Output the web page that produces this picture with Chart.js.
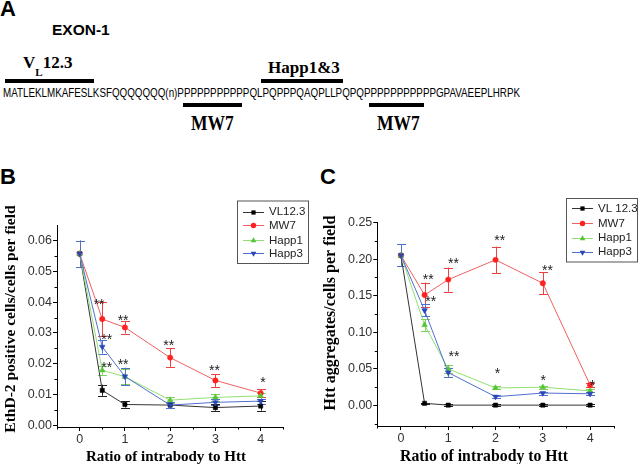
<!DOCTYPE html>
<html><head><meta charset="utf-8">
<script src="https://cdn.jsdelivr.net/npm/chart.js@4/dist/chart.umd.min.js"></script>
<style>
html,body{margin:0;padding:0;background:#fff;width:640px;height:464px;overflow:hidden;position:relative}
.t{position:absolute;white-space:nowrap;line-height:1;color:#000}
.sans{font-family:"Liberation Sans",Arial,sans-serif}
.sb{font-family:"Liberation Sans",Arial,sans-serif;font-weight:bold}
.serif{font-family:"Liberation Serif","Times New Roman",serif;font-weight:bold}
.bar{position:absolute;background:#000;height:4px}
canvas{position:absolute}
</style></head><body>
<div class="t sb" style="left:0;top:-2px;font-size:22px">A</div>
<div class="t sb" style="left:52px;top:22px;font-size:15.5px">EXON-1</div>
<div class="t serif" style="left:23px;top:54.3px;font-size:17px">V<span style="font-size:11px;position:relative;top:7.5px">L</span>12.3</div>
<div class="bar" style="left:5px;top:79px;width:89px"></div>
<div class="t serif" style="left:268px;top:58.7px;font-size:17px">Happ1&amp;3</div>
<div class="bar" style="left:261px;top:79px;width:82px"></div>
<div id="seq" class="t sans" style="left:3px;top:85.6px;font-size:13px;transform-origin:0 0">MATLEKLMKAFESLKSFQQQQQQQ(n)PPPPPPPPPPPQLPQPPPQAQPLLPQPQPPPPPPPPPPPGPAVAEEPLHRPK</div>
<div class="bar" style="left:183px;top:103px;width:59px"></div>
<div class="bar" style="left:369px;top:103px;width:55px"></div>
<div class="t serif" style="left:191px;top:112.8px;font-size:17.5px;transform:scaleY(1.2);transform-origin:0 0">MW7</div>
<div class="t serif" style="left:377px;top:112.8px;font-size:17.5px;transform:scaleY(1.2);transform-origin:0 0">MW7</div>
<div class="t sb" style="left:0;top:166px;font-size:22px">B</div>
<div class="t sb" style="left:320px;top:166px;font-size:22px">C</div>
<canvas id="cb" width="320" height="279" style="left:0;top:185px"></canvas>
<canvas id="cc" width="320" height="279" style="left:320px;top:185px"></canvas>
<script>
// ---------- data ----------
const ratios = [0, 0.5, 1, 2, 3, 4];
const namesB = ['VL12.3', 'MW7', 'Happ1', 'Happ3'];
const namesC = ['VL 12.3', 'MW7', 'Happ1', 'Happ3'];

// Panel B: EthD-2 positive cells / cells per field
const ethdVL      = [0.0557, 0.0114, 0.0068, 0.0066, 0.0058, 0.0063];
const ethdVLErr   = [0.0042, 0.0018, 0.0010, 0.0008, 0.0010, 0.0015];
const ethdMW7     = [0.0557, 0.0345, 0.0318, 0.0220, 0.0146, 0.0105];
const ethdMW7Err  = [0.0042, 0.0055, 0.0020, 0.0030, 0.0021, 0.0013];
const ethdHapp1   = [0.0557, 0.0179, 0.0158, 0.0082, 0.0091, 0.0096];
const ethdHapp1Err= [0.0042, 0.0015, 0.0025, 0.0010, 0.0012, 0.0010];
const ethdHapp3   = [0.0557, 0.0255, 0.0159, 0.0066, 0.0075, 0.0079];
const ethdHapp3Err= [0.0042, 0.0022, 0.0028, 0.0010, 0.0010, 0.0008];

// Panel C: Htt aggregates / cells per field
const aggVL       = [0.205, 0.003, 0.0005, 0.0005, 0.0005, 0.0005];
const aggVLErr    = [0.015, 0.001, 0.001, 0.001, 0.001, 0.001];
const aggMW7      = [0.205, 0.151, 0.172, 0.199, 0.167, 0.028];
const aggMW7Err   = [0.015, 0.017, 0.0165, 0.018, 0.015, 0.003];
const aggHapp1    = [0.205, 0.110, 0.050, 0.024, 0.025, 0.020];
const aggHapp1Err = [0.015, 0.008, 0.005, 0.002, 0.002, 0.002];
const aggHapp3    = [0.205, 0.130, 0.045, 0.012, 0.017, 0.016];
const aggHapp3Err = [0.015, 0.008, 0.006, 0.002, 0.002, 0.002];

// significance marks (value coordinates)
const sigB = [
  {x:0.43, y:0.0404, t:'**'}, {x:0.60, y:0.0291, t:'**'}, {x:0.60, y:0.0198, t:'**'},
  {x:0.96, y:0.0353, t:'**'}, {x:0.96, y:0.0209, t:'**'}, {x:1.97, y:0.0269, t:'**'},
  {x:2.98, y:0.0190, t:'**'}, {x:4.05, y:0.0150, t:'*'}
];
const sigC = [
  {x:0.575, y:0.1766, t:'**'}, {x:0.63, y:0.147, t:'**'}, {x:1.11, y:0.1985, t:'**'},
  {x:2.09, y:0.2303, t:'**'}, {x:3.10, y:0.1893, t:'**'}, {x:1.12, y:0.0719, t:'**'},
  {x:2.04, y:0.0482, t:'*'}, {x:3.01, y:0.0391, t:'*'}, {x:4.05, y:0.0322, t:'*'}
];

// ticks
const xTicks = [0, 1, 2, 3, 4];
const xMinor = [-0.5, 0.5, 1.5, 2.5, 3.5, 4.5];
const yTicksB = [0, 0.01, 0.02, 0.03, 0.04, 0.05, 0.06];
const yMinorB = [0.005, 0.015, 0.025, 0.035, 0.045, 0.055];
const yTicksC = [0, 0.05, 0.10, 0.15, 0.20, 0.25];
const yMinorC = [-0.025, 0.025, 0.075, 0.125, 0.175, 0.225];

// ---------- styling ----------
const SANS = '"Liberation Sans", Arial, sans-serif';
const SERIF = '"Liberation Serif", "Times New Roman", serif';
const styles = [
  {line:'#333333', pt:'#000000', err:'#222222', ps:'rect', rot:0, r:3},
  {line:'#f06060', pt:'#ff2020', err:'#f04040', ps:'circle', rot:0, r:2.7},
  {line:'#90e070', pt:'#55c535', err:'#80d060', ps:'triangle', rot:0, r:3.3},
  {line:'#5070d0', pt:'#2a46b8', err:'#5070d0', ps:'triangle', rot:180, r:3.3}
];

function mkDatasets(names, vals, errs) {
  return names.map((n, k) => ({
    label: n,
    data: ratios.map((r, i) => ({x: r, y: vals[k][i]})),
    errors: errs[k],
    errColor: styles[k].err,
    borderColor: styles[k].line,
    borderWidth: 1,
    backgroundColor: styles[k].pt,
    pointBackgroundColor: styles[k].pt,
    pointBorderColor: styles[k].pt,
    pointBorderWidth: 0.5,
    pointStyle: styles[k].ps,
    pointRotation: styles[k].rot,
    pointRadius: styles[k].r,
    tension: 0,
    order: 3 - k
  }));
}

function drawMarker(ctx, st, x, y) {
  ctx.save();
  ctx.fillStyle = st.pt;
  ctx.beginPath();
  const r = st.r;
  if (st.ps === 'rect') { const s = r * Math.SQRT1_2; ctx.rect(x - s, y - s, 2 * s, 2 * s); }
  else if (st.ps === 'circle') { ctx.arc(x, y, r, 0, Math.PI * 2); }
  else {
    let a = st.rot * Math.PI / 180;
    for (let i = 0; i < 3; i++) {
      const px = x + Math.sin(a) * r, py = y - Math.cos(a) * r;
      if (i === 0) ctx.moveTo(px, py); else ctx.lineTo(px, py);
      a += 2 * Math.PI / 3;
    }
    ctx.closePath();
  }
  ctx.fill();
  ctx.restore();
}

const extras = {
  id: 'extras',
  beforeDatasetsDraw(chart, args, o) {
    const ctx = chart.ctx, xs = chart.scales.x, ys = chart.scales.y;
    ctx.save();
    ctx.lineWidth = 1;
    chart.data.datasets.forEach(ds => {
      ctx.strokeStyle = ds.errColor;
      ds.data.forEach((p, i) => {
        const e = ds.errors[i];
        if (!e) return;
        const px = Math.round(xs.getPixelForValue(p.x)) + 0.5;
        const y1 = ys.getPixelForValue(p.y + e), y2 = ys.getPixelForValue(p.y - e);
        ctx.beginPath();
        ctx.moveTo(px, y1); ctx.lineTo(px, y2);
        ctx.moveTo(px - o.cap, Math.round(y1) + 0.5); ctx.lineTo(px + o.cap, Math.round(y1) + 0.5);
        ctx.moveTo(px - o.cap, Math.round(y2) + 0.5); ctx.lineTo(px + o.cap, Math.round(y2) + 0.5);
        ctx.stroke();
      });
    });
    ctx.restore();
  },
  afterDraw(chart, args, o) {
    const ctx = chart.ctx, xs = chart.scales.x, ys = chart.scales.y, ca = chart.chartArea;
    ctx.save();
    // minor ticks
    ctx.strokeStyle = '#000'; ctx.lineWidth = 1;
    ctx.beginPath();
    o.xMinor.forEach(v => { const px = Math.round(xs.getPixelForValue(v)) + 0.5; ctx.moveTo(px, ca.bottom); ctx.lineTo(px, ca.bottom + 2.5); });
    o.yMinor.forEach(v => { const py = Math.round(ys.getPixelForValue(v)) + 0.5; ctx.moveTo(ca.left, py); ctx.lineTo(ca.left - 2.5, py); });
    ctx.stroke();
    // significance marks
    ctx.fillStyle = '#222';
    ctx.font = '14px ' + SANS;
    ctx.textAlign = 'center'; ctx.textBaseline = 'alphabetic';
    o.sig.forEach(s => ctx.fillText(s.t, xs.getPixelForValue(s.x), ys.getPixelForValue(s.y) + 8));
    // legend
    const L = o.legend;
    ctx.strokeStyle = '#555'; ctx.lineWidth = 1;
    ctx.strokeRect(L.x + 0.5, L.y + 0.5, L.w, L.h);
    ctx.font = L.font + 'px ' + SANS;
    ctx.textAlign = 'left'; ctx.textBaseline = 'middle';
    chart.data.datasets.forEach((ds, k) => {
      const yy = L.rows[k];
      ctx.strokeStyle = styles[k].line; ctx.lineWidth = 1;
      ctx.beginPath(); ctx.moveTo(L.lx1, Math.round(yy) + 0.5); ctx.lineTo(L.lx2, Math.round(yy) + 0.5); ctx.stroke();
      drawMarker(ctx, styles[k], (L.lx1 + L.lx2) / 2, Math.round(yy) + 0.5);
      ctx.fillStyle = '#222';
      ctx.fillText(ds.label, L.tx, yy + 0.5);
    });
    // axis titles
    ctx.fillStyle = '#000';
    o.titles.forEach(t => {
      ctx.save();
      ctx.font = 'bold ' + t.size + 'px ' + SERIF;
      ctx.textAlign = 'center';
      ctx.translate(t.x, t.y);
      ctx.rotate(t.rot * Math.PI / 180);
      ctx.textBaseline = t.base;
      ctx.fillText(t.text, 0, 0);
      ctx.restore();
    });
    ctx.restore();
  }
};

function makeChart(id, names, vals, errs, yMin, yMax, yTicks, yMinor, sig, pad, yW, xH, legend, titles) {
  return new Chart(document.getElementById(id), {
    type: 'line',
    data: {datasets: mkDatasets(names, vals, errs)},
    plugins: [extras],
    options: {
      responsive: false, animation: false, devicePixelRatio: 1,
      layout: {padding: pad},
      plugins: {
        legend: {display: false}, tooltip: {enabled: false},
        extras: {cap: 4.5, sig: sig, xMinor: xMinor, yMinor: yMinor, legend: legend, titles: titles}
      },
      scales: {
        x: {
          type: 'linear', min: -0.5, max: 4.5,
          afterBuildTicks: s => { s.ticks = xTicks.map(v => ({value: v})); },
          afterFit: s => { s.height = xH; },
          ticks: {color: '#333', font: {family: SANS, size: 12.5}, padding: 1, maxRotation: 0, callback: v => String(v)},
          grid: {display: true, drawOnChartArea: false, drawTicks: true, tickLength: 4, tickColor: '#000'},
          border: {display: true, color: '#000', width: 1}
        },
        y: {
          type: 'linear', min: yMin, max: yMax,
          afterBuildTicks: s => { s.ticks = yTicks.map(v => ({value: v})); },
          afterFit: s => { s.width = yW; },
          ticks: {color: '#333', font: {family: SANS, size: 12.5}, padding: 1, callback: v => v.toFixed(2)},
          grid: {display: true, drawOnChartArea: false, drawTicks: true, tickLength: 4, tickColor: '#000'},
          border: {display: true, color: '#000', width: 1}
        }
      }
    }
  });
}

makeChart('cb', namesB,
  [ethdVL, ethdMW7, ethdHapp1, ethdHapp3], [ethdVLErr, ethdMW7Err, ethdHapp1Err, ethdHapp3Err],
  -0.0005, 0.065, yTicksB, yMinorB, sigB,
  {left: 0, top: 40, right: 36.7, bottom: 0}, 57, 37,
  {x: 237, y: 15.5, w: 71, h: 62.5, rows: [26.7, 40, 55, 68.3], lx1: 243, lx2: 264, tx: 269, font: 11.5},
  [
    {text: 'EthD-2 positive cells/cells per field', x: 10.5, y: 134, rot: -90, base: 'middle', size: 15.5},
    {text: 'Ratio of intrabody to Htt', x: 166, y: 275.5, rot: 0, base: 'alphabetic', size: 15}
  ]);

makeChart('cc', namesC,
  [aggVL, aggMW7, aggHapp1, aggHapp3], [aggVLErr, aggMW7Err, aggHapp1Err, aggHapp3Err],
  -0.028, 0.25, yTicksC, yMinorC, sigC,
  {left: 0, top: 37.5, right: 26.25, bottom: 0}, 57.3, 38,
  {x: 246, y: 13, w: 71, h: 63.5, rows: [23.3, 38.3, 52.7, 66.7], lx1: 252, lx2: 273, tx: 278, font: 11.5},
  [
    {text: 'Htt aggregates/cells per field', x: 10.5, y: 128, rot: -90, base: 'middle', size: 16},
    {text: 'Ratio of intrabody to Htt', x: 164, y: 275.5, rot: 0, base: 'alphabetic', size: 15.75}
  ]);

// fit the sequence line to its width in the figure
const seq = document.getElementById('seq');
const sw = seq.getBoundingClientRect().width;
seq.style.transform = 'scaleX(' + (517 / sw) + ')';
</script>
</body></html>
